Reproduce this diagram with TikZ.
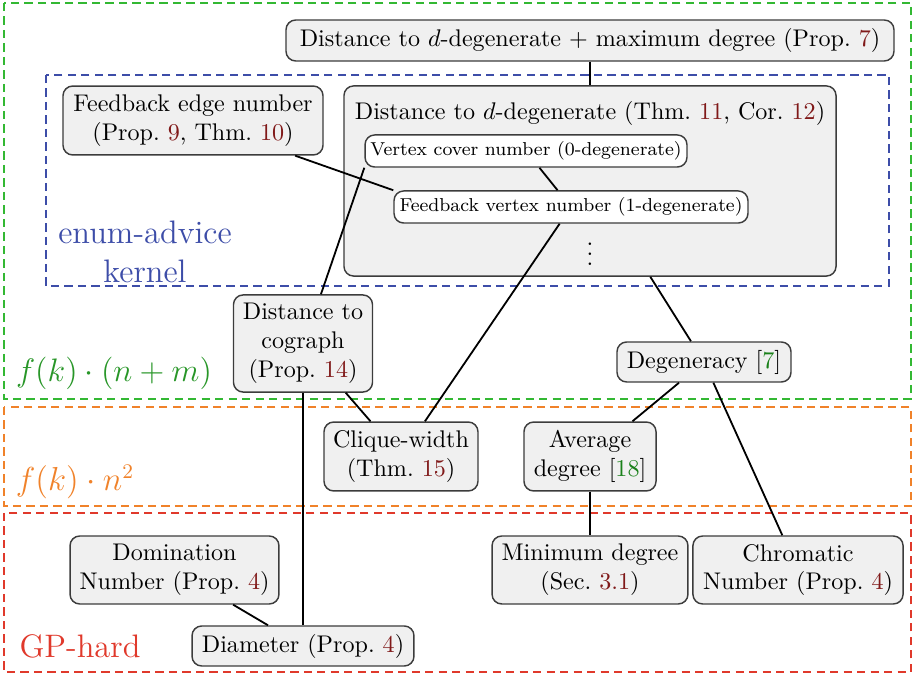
\documentclass[tikz,border=0pt]{standalone}
\usepackage{graphicx}
\usetikzlibrary{calc}
\definecolor{refred}{rgb}{0.5,0.1,0.1}
\definecolor{citegreen}{rgb}{0.1,0.5,0.1}
\definecolor{zonegreen}{RGB}{51,184,51}
\definecolor{labgreen}{RGB}{40,150,40}
\definecolor{zoneorange}{RGB}{240,130,42}
\definecolor{zonered}{RGB}{224,57,43}
\definecolor{zoneblue}{RGB}{61,77,168}
\definecolor{boxfill}{RGB}{240,240,240}
\definecolor{boxdraw}{RGB}{60,60,60}
\newcommand{\rf}[1]{\textcolor{refred}{#1}}
\newcommand{\ct}[1]{[\textcolor{citegreen}{#1}]}
\tikzset{
  pbox/.style={draw=boxdraw, fill=boxfill, rounded corners=4pt, line width=0.6pt,
    align=center, inner sep=2pt, font=\fontsize{10}{12}\selectfont},
  wbox/.style={pbox, fill=white, font=\fontsize{7.75}{9.5}\selectfont},
  zone/.style={line width=0.8pt, dash pattern=on 3.4pt off 2.2pt},
  zlabel/.style={align=center, font=\fontsize{13.5}{16}\selectfont, inner sep=0pt},
  conn/.style={line width=0.75pt, black}
}
\begin{document}
\begin{tikzpicture}[x=0.415pt, y=-0.415pt]
\useasboundingbox (0,0) rectangle (915,675);
% zones
\draw[zone, zonegreen] (4,3) rectangle (911,399);
\draw[zone, zoneorange] (4,407) rectangle (911,506);
\draw[zone, zonered] (4,513) rectangle (911,672);
\draw[zone, zoneblue] (46,75) rectangle (889,286);
\node[zlabel, text=zoneblue] (lblue) at (145,252) {enum-advice\\kernel};
\node[zlabel, text=labgreen] (lgreen) at (114,373) {\scalebox{0.937}{$f(k)\cdot(n+m)$}};
\node[zlabel, text=zoneorange] (lorange) at (75,482) {\scalebox{0.958}{$f(k)\cdot n^2$}};
\node[zlabel, text=zonered] (lred) at (80,646) {GP-hard};
% nodes
\node[pbox, minimum width=252.3pt, minimum height=17pt] (top) at (590,40.5)
  {Distance to $d$-degenerate + maximum degree (Prop.~\rf{7})};
\node[pbox, minimum width=107.9pt, minimum height=28.6pt] (fen) at (193,120.5)
  {Feedback edge number\\(Prop.~\rf{9}, Thm.~\rf{10})};
\node[pbox, minimum width=204.2pt, minimum height=78.9pt] (cont) at (590,181) {};
\node[font=\fontsize{10}{12}\selectfont, inner sep=0pt] (conttitle) at (590,113)
  {Distance to $d$-degenerate (Thm.~\rf{11}, Cor.~\rf{12})};
\node[wbox, minimum width=133.6pt, minimum height=13.3pt] (vc) at (526,151)
  {Vertex cover number (0-degenerate)};
\node[wbox, minimum width=146.9pt, minimum height=13.3pt] (fvn) at (571,207)
  {Feedback vertex number (1-degenerate)};
\node[inner sep=0pt, font=\fontsize{10}{12}\selectfont] (dots) at (590,247) {$\vdots$};
\node[pbox, minimum width=57.7pt, minimum height=40.3pt] (cog) at (303,343.5)
  {Distance to\\cograph\\(Prop.~\rf{14})};
\node[pbox, minimum width=72.2pt, minimum height=16.6pt] (deg) at (704,362)
  {Degeneracy \ct{7}};
\node[pbox, minimum width=63.9pt, minimum height=28.6pt] (cw) at (401,456.5)
  {Clique-width\\(Thm.~\rf{15})};
\node[pbox, minimum width=54.8pt, minimum height=28.6pt] (ad) at (590,456.5)
  {Average\\degree \ct{18}};
\node[pbox, minimum width=81.3pt, minimum height=28.2pt] (mind) at (590,570)
  {Minimum degree\\(Sec.~\rf{3.1})};
\node[pbox, minimum width=87.2pt, minimum height=28.2pt] (chrom) at (798,570)
  {Chromatic\\Number (Prop.~\rf{4})};
\node[pbox, minimum width=86.7pt, minimum height=28.2pt] (dom) at (174.5,570)
  {Domination\\Number (Prop.~\rf{4})};
\node[pbox, minimum width=92.1pt, minimum height=16.6pt] (diam) at (303,646)
  {Diameter (Prop.~\rf{4})};
% connectors
\draw[conn] (top) -- (cont);
\draw[conn] (fen.-19) -- (fvn.north west);
\draw[conn] (vc.south west) -- (cog.70);
\draw[conn] (vc) -- (fvn);
\draw[conn] (fvn) -- (cw);
\draw[conn] (cont) -- (deg);
\draw[conn] (cog) -- (cw);
\draw[conn] (cog) -- (diam);
\draw[conn] (deg) -- (ad);
\draw[conn] (deg) -- (chrom);
\draw[conn] (ad) -- (mind);
\draw[conn] (dom) -- (diam);
\end{tikzpicture}
\end{document}
